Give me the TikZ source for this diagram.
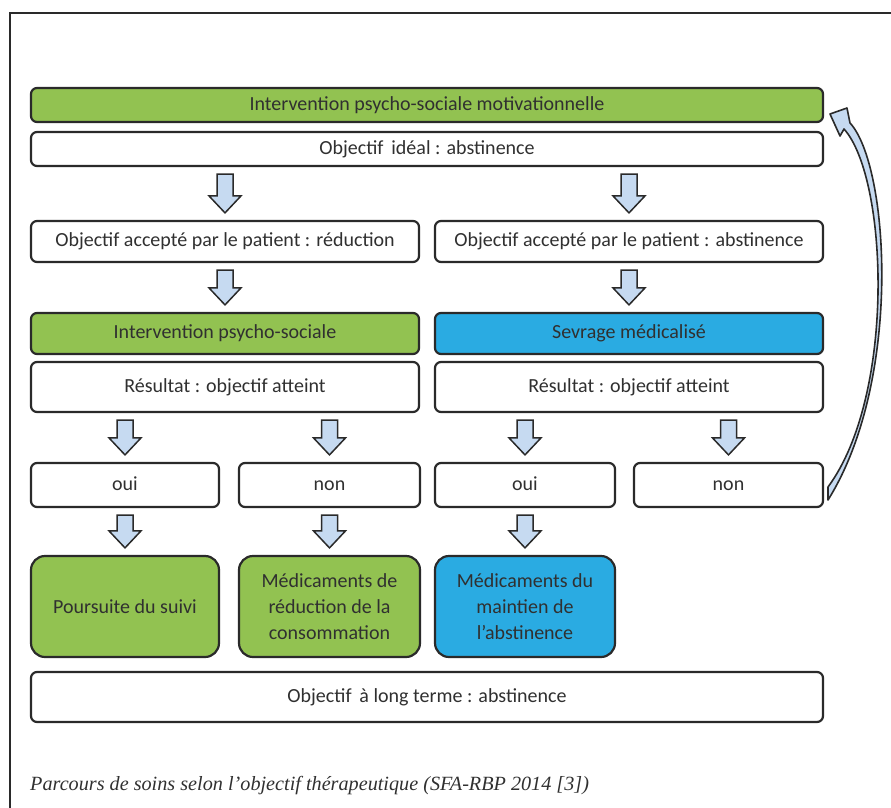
\documentclass[tikz,border=0pt]{standalone}
\usepackage{fontspec}
\setmainfont{Carlito}
\newfontfamily\capfont{Liberation Serif}
\usetikzlibrary{calc}
\definecolor{fgreen}{HTML}{92C251}
\definecolor{fblue}{HTML}{2AABE2}
\definecolor{abl}{HTML}{C6DAF1}
\definecolor{edge}{HTML}{2A2A2A}
\definecolor{txt}{HTML}{303030}
\tikzset{
  basebox/.style={draw=edge, line width=2.2pt, rounded corners=6pt, fill=white,
    text=txt, inner sep=0pt, align=center},
  box/.style={basebox, font=\fontsize{20}{24}\selectfont, text height=14pt, text depth=4pt},
  bigbox/.style={basebox, rounded corners=14pt, font=\fontsize{20}{26}\selectfont},
  barr/.style={draw=edge, line width=1.5pt, fill=abl, line join=miter},
  curarr/.style={draw=edge, line width=1.6pt, fill=abl, line join=round}
}
\newcommand\barrow[2]{%
  \draw[barr] let \p1=(#1.south), \p2=(#2.north), \n1={\y1-7pt}, \n2={\y2+7pt}, \n3={\y2+24pt} in
    (\x2-8pt,\n1) -- (\x2+8pt,\n1) -- (\x2+8pt,\n3) -- (\x2+16pt,\n3) -- (\x2,\n2)
    -- (\x2-16pt,\n3) -- (\x2-8pt,\n3) -- cycle;}
\begin{document}
\begin{tikzpicture}[x=1pt,y=-1pt]
\useasboundingbox (0,0) rectangle (891,808);
\draw[edge, line width=1.3pt] (10,808) -- (10,13) -- (891,13);

\node[box, fill=fgreen, minimum width=792pt, minimum height=34pt] (b1) at (427,105) {Intervention psycho-sociale motivationnelle};
\node[box, minimum width=792pt, minimum height=34pt] (b2) at (427,149) {Objectif\, idéal : abstinence};

\node[box, minimum width=388pt, minimum height=41pt] (b3l) at (225,241.5) {Objectif accepté par le patient : réduction};
\node[box, minimum width=388pt, minimum height=41pt] (b3r) at (629,241.5) {Objectif accepté par le patient : abstinence};

\node[box, fill=fgreen, minimum width=388pt, minimum height=41pt] (b4l) at (225,333.5) {Intervention psycho-sociale};
\node[box, fill=fblue, minimum width=388pt, minimum height=41pt] (b4r) at (629,333.5) {Sevrage médicalisé};

\node[box, minimum width=388pt, minimum height=50pt] (b5l) at (225,387) {Résultat : objectif atteint};
\node[box, minimum width=388pt, minimum height=50pt] (b5r) at (629,387) {Résultat : objectif atteint};

\node[box, minimum width=188pt, minimum height=44pt] (r6a) at (125,485) {oui};
\node[box, minimum width=181pt, minimum height=44pt] (r6b) at (329.5,485) {non};
\node[box, minimum width=180pt, minimum height=44pt] (r6c) at (525,485) {oui};
\node[box, minimum width=189pt, minimum height=44pt] (r6d) at (728.5,485) {non};

\node[bigbox, fill=fgreen, minimum width=188pt, minimum height=101pt] (r7a) at (125,606.5) {Poursuite du suivi};
\node[bigbox, fill=fgreen, minimum width=181pt, minimum height=101pt] (r7b) at (329.5,606.5) {Médicaments de\\réduction de la\\consommation};
\node[bigbox, fill=fblue, minimum width=180pt, minimum height=101pt] (r7c) at (525,606.5) {Médicaments du\\maintien de\\l’abstinence};

\node[box, minimum width=792pt, minimum height=50pt] (b8) at (427,697) {Objectif\, à long terme : abstinence};

\barrow{b2}{b3l}
\barrow{b2}{b3r}
\barrow{b3l}{b4l}
\barrow{b3r}{b4r}
\barrow{b5l}{r6a}
\barrow{b5l}{r6b}
\barrow{b5r}{r6c}
\barrow{b5r}{r6d}
\barrow{r6a}{r7a}
\barrow{r6b}{r7b}
\barrow{r6c}{r7c}

\draw[curarr] (828,500) -- (828,487) .. controls (896,395) and (888,178) .. (844,129)
  -- (840,136) -- (830,114) -- (847,108) -- (850,123)
  .. controls (889,165) and (903,380) .. (828,500) -- cycle;

\node[anchor=base west, inner sep=0pt, text=txt, font=\capfont\itshape\fontsize{20.2}{24}\selectfont] (cap) at (30,790) {Parcours de soins selon l’objectif thérapeutique (SFA-RBP 2014 [3])};
\end{tikzpicture}
\end{document}
